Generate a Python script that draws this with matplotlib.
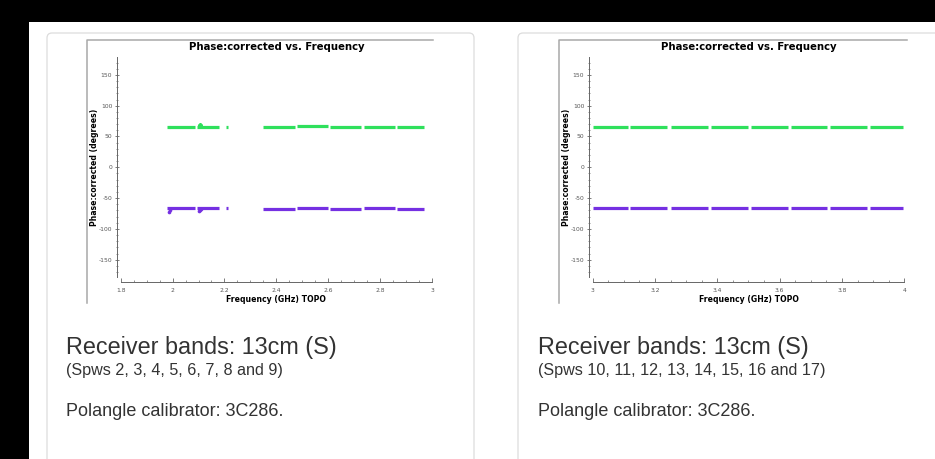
import matplotlib.pyplot as plt
from matplotlib.patches import FancyBboxPatch, Rectangle
from matplotlib.ticker import MultipleLocator, FuncFormatter

plt.rcParams['axes.unicode_minus'] = False

# Frequenze (GHz) inizio/fine di ogni spw e fase media per le due correlazioni
left_lo = [1.98, 2.096, 2.205, 2.349, 2.480, 2.607, 2.737, 2.864]
left_hi = [2.085, 2.178, 2.215, 2.471, 2.601, 2.728, 2.856, 2.970]
left_green = [66, 66, 66, 66, 66.5, 66, 66, 66]
left_purple = [-66, -66, -66, -67, -66.5, -67, -66, -67]

# punti fuori linea a inizio spw
left_out_f = [1.985, 1.99, 2.10, 2.105, 2.11]
left_out_green = [66, 66, 69, 69.5, 68]
left_out_purple = [-72, -70, -71, -69, -67]

right_lo = [3.000, 3.120, 3.250, 3.379, 3.507, 3.635, 3.762, 3.890]
right_hi = [3.114, 3.237, 3.369, 3.497, 3.626, 3.753, 3.879, 3.997]
right_green = [66, 65.5, 66, 66, 66, 65.5, 66, 66]
right_purple = [-66, -66, -66, -66, -66, -66.5, -66, -66]

W, H = 935, 459
GREEN = '#2fe05c'
PURPLE = '#7530e2'

fig = plt.figure(figsize=(W / 100, H / 100), dpi=100, facecolor='black')

# sfondo in coordinate pixel
bg = fig.add_axes([0, 0, 1, 1])
bg.set_xlim(0, W)
bg.set_ylim(H, 0)
bg.axis('off')
bg.add_patch(Rectangle((29, 22), W, H, facecolor='white', edgecolor='none'))
for cx, cw in [(47, 427), (518, 440)]:
    bg.add_patch(FancyBboxPatch((cx, 33), cw, 460, boxstyle='round,pad=0,rounding_size=5',
                                facecolor='white', edgecolor='#dcdcdc', lw=0.9))
# cornice delle immagini
bg.plot([87, 87, 433], [303, 40, 40], color='#a8a8a8', lw=1.1)
bg.plot([559, 559, 907], [303, 40, 40], color='#a8a8a8', lw=1.1)

# testi sotto i grafici
txt = dict(family=['Liberation Sans', 'DejaVu Sans'], color='#333333', va='baseline')
for x0, spws in [(66, '(Spws 2, 3, 4, 5, 6, 7, 8 and 9)'),
                 (538, '(Spws 10, 11, 12, 13, 14, 15, 16 and 17)')]:
    bg.text(x0, 354, 'Receiver bands: 13cm (S)', fontsize=16.8, **txt)
    bg.text(x0, 375, spws, fontsize=11.6, **txt)
    bg.text(x0, 416, 'Polangle calibrator: 3C286.', fontsize=13, **txt)


def fmt(v, pos):
    return ('%g' % round(v, 2))


def make_plot(px0, px1, xmin, xmax, lo, hi, g, p, out_f=None, out_g=None, out_p=None):
    top, bot = 57, 277
    ax = fig.add_axes([px0 / W, 1 - bot / H, (px1 - px0) / W, (bot - top) / H])
    ax.set_facecolor('none')
    ax.hlines(g, lo, hi, color=GREEN, lw=2.3)
    ax.hlines(p, lo, hi, color=PURPLE, lw=2.3)
    if out_f is not None:
        ax.scatter(out_f, out_g, s=5, color=GREEN, lw=0)
        ax.scatter(out_f, out_p, s=7, color=PURPLE, lw=0)
    ax.set_xlim(xmin, xmax)
    ax.set_ylim(-178, 179)
    for s in ['top', 'right']:
        ax.spines[s].set_visible(False)
    ax.spines['left'].set_position(('outward', 2.6))
    ax.spines['bottom'].set_position(('outward', 3.6))
    for s in ['left', 'bottom']:
        ax.spines[s].set_color('#666666')
        ax.spines[s].set_linewidth(0.7)
    ax.xaxis.set_major_locator(MultipleLocator(0.2))
    ax.xaxis.set_minor_locator(MultipleLocator(0.05))
    ax.yaxis.set_major_locator(MultipleLocator(50))
    ax.yaxis.set_minor_locator(MultipleLocator(10))
    ax.xaxis.set_major_formatter(FuncFormatter(fmt))
    ax.tick_params(axis='x', which='major', direction='in', length=3, width=0.6,
                   color='#666666', labelsize=4.3, labelcolor='#555555', pad=4)
    ax.tick_params(axis='x', which='minor', direction='in', length=1.8, width=0.5, color='#666666')
    ax.tick_params(axis='y', which='major', direction='inout', length=3, width=0.6,
                   color='#666666', labelsize=4.3, labelcolor='#555555', pad=2)
    ax.tick_params(axis='y', which='minor', direction='inout', length=1.5, width=0.5, color='#666666')
    ax.set_title('Phase:corrected vs. Frequency', fontsize=7.3, fontweight='bold', pad=5)
    ax.set_xlabel('Frequency (GHz) TOPO', fontsize=5.6, fontweight='bold', labelpad=1.5)
    ax.set_ylabel('Phase:corrected (degrees)', fontsize=5.6, fontweight='bold', labelpad=0)
    return ax


make_plot(120.7, 432, 1.8, 3.0, left_lo, left_hi, left_green, left_purple,
          left_out_f, left_out_green, left_out_purple)
make_plot(592.7, 904.3, 3.0, 4.0, right_lo, right_hi, right_green, right_purple)

fig.savefig('out.png', dpi=100, facecolor='black')
